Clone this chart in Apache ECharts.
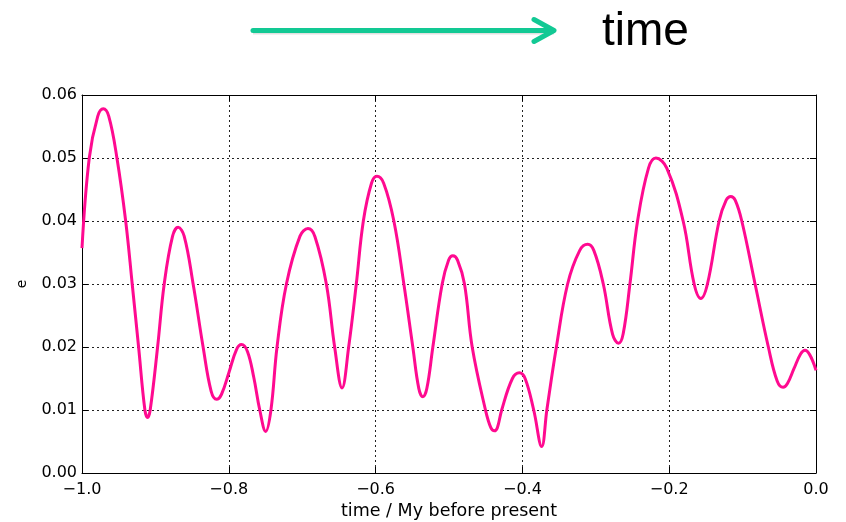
<!DOCTYPE html>
<html>
<head>
<meta charset="utf-8">
<script src="https://cdn.jsdelivr.net/npm/echarts@6/dist/echarts.min.js"></script>
<style>html,body{margin:0;padding:0;background:#fff}#c{width:846px;height:522px}</style>
</head>
<body>
<div id="c"></div>
<script>
// time (My before present) and eccentricity values
var timeVals = [-1.0000,-0.9901,-0.9786,-0.9710,-0.9635,-0.9524,-0.9405,-0.9316,-0.9229,-0.9143,-0.9106,-0.9071,-0.8970,-0.8880,-0.8766,-0.8690,-0.8608,-0.8486,-0.8350,-0.8241,-0.8167,-0.8099,-0.7997,-0.7895,-0.7827,-0.7746,-0.7660,-0.7578,-0.7497,-0.7426,-0.7343,-0.7215,-0.7030,-0.6921,-0.6826,-0.6671,-0.6558,-0.6457,-0.6367,-0.6263,-0.6167,-0.6056,-0.5982,-0.5890,-0.5751,-0.5615,-0.5493,-0.5411,-0.5356,-0.5302,-0.5220,-0.5093,-0.5005,-0.4948,-0.4884,-0.4789,-0.4684,-0.4503,-0.4430,-0.4381,-0.4341,-0.4282,-0.4136,-0.4041,-0.3963,-0.3846,-0.3737,-0.3667,-0.3537,-0.3384,-0.3220,-0.3111,-0.3026,-0.2898,-0.2771,-0.2690,-0.2627,-0.2535,-0.2431,-0.2282,-0.2181,-0.2033,-0.1810,-0.1660,-0.1569,-0.1479,-0.1320,-0.1224,-0.1161,-0.1101,-0.1011,-0.0830,-0.0649,-0.0529,-0.0449,-0.0389,-0.0299,-0.0210,-0.0150,0.0000];
var eccVals = [0.0357,0.0500,0.0566,0.0578,0.0566,0.0500,0.0400,0.0300,0.0200,0.0100,0.0088,0.0100,0.0200,0.0300,0.0376,0.0390,0.0376,0.0300,0.0200,0.0130,0.0117,0.0125,0.0160,0.0196,0.0204,0.0193,0.0152,0.0100,0.0066,0.0100,0.0200,0.0300,0.0376,0.0388,0.0375,0.0300,0.0200,0.0135,0.0200,0.0300,0.0400,0.0460,0.0471,0.0460,0.0400,0.0300,0.0200,0.0134,0.0121,0.0134,0.0200,0.0300,0.0338,0.0345,0.0338,0.0300,0.0200,0.0100,0.0072,0.0067,0.0072,0.0100,0.0150,0.0159,0.0150,0.0100,0.0042,0.0100,0.0200,0.0300,0.0353,0.0363,0.0353,0.0300,0.0220,0.0206,0.0221,0.0300,0.0400,0.0484,0.0500,0.0484,0.0400,0.0300,0.0277,0.0300,0.0400,0.0433,0.0439,0.0433,0.0400,0.0300,0.0200,0.0146,0.0136,0.0142,0.0166,0.0189,0.0195,0.0163];
var xTickLabels = ['\u22121.0','\u22120.8','\u22120.6','\u22120.4','\u22120.2','0.0'];
var yTickLabels = ['0.00','0.01','0.02','0.03','0.04','0.05','0.06'];

var seriesData = timeVals.map(function(t,i){return [t, eccVals[i]];});
var font = 'DejaVu Sans';
var chart = echarts.init(document.getElementById('c'));
var splitStyle = {show:true, lineStyle:{color:'#222', type:[2,3], width:1}};
var lineStyleAx = {color:'#000', width:1};
chart.setOption({
  animation:false,
  backgroundColor:'#fff',
  grid:{left:82, right:30, top:95, bottom:49, containLabel:false, outerBoundsMode:'none'},
  xAxis:[{
    type:'value', min:-1, max:0, interval:0.2, position:'bottom',
    name:'time / My before present', nameLocation:'middle', nameGap:26,
    nameTextStyle:{fontFamily:font, fontSize:17.5, color:'#000'},
    axisLine:{show:true, onZero:false, lineStyle:lineStyleAx},
    axisTick:{show:true, inside:true, length:6, lineStyle:lineStyleAx},
    axisLabel:{fontFamily:font, fontSize:16, color:'#000', margin:9,
      formatter:function(v){var i=Math.round((v+1)/0.2);return xTickLabels[i];}},
    splitLine:splitStyle
  },{
    type:'value', min:-1, max:0, interval:0.2, position:'top',
    axisLine:{show:true, onZero:false, lineStyle:lineStyleAx},
    axisTick:{show:true, inside:true, length:6, lineStyle:lineStyleAx},
    axisLabel:{show:false}, splitLine:{show:false}
  }],
  yAxis:[{
    type:'value', min:0, max:0.06, interval:0.01, position:'left',
    name:'e', nameLocation:'middle', nameGap:53, nameRotate:90,
    nameTextStyle:{fontFamily:font, fontSize:14, color:'#000'},
    axisLine:{show:true, onZero:false, lineStyle:lineStyleAx},
    axisTick:{show:true, inside:true, length:6, lineStyle:lineStyleAx},
    axisLabel:{fontFamily:font, fontSize:16, color:'#000', margin:5,
      formatter:function(v){return yTickLabels[Math.round(v/0.01)];}},
    splitLine:splitStyle
  },{
    type:'value', min:0, max:0.06, interval:0.01, position:'right',
    axisLine:{show:true, onZero:false, lineStyle:lineStyleAx},
    axisTick:{show:true, inside:true, length:6, lineStyle:lineStyleAx},
    axisLabel:{show:false}, splitLine:{show:false}
  }],
  series:[{
    type:'line', data:seriesData, smooth:0.4, showSymbol:false, symbol:'none',
    lineStyle:{color:'#ff0a90', width:3}, z:5
  }],
  graphic:[
    {type:'line', shape:{x1:253, y1:32, x2:554, y2:32}, style:{stroke:'rgba(0,0,0,0.12)', lineWidth:5}},
    {type:'line', shape:{x1:253, y1:30.5, x2:553, y2:30.5}, style:{stroke:'#12c994', lineWidth:5, lineCap:'round'}},
    {type:'polyline', shape:{points:[[534,19.5],[554,30.5],[534,41.5]]}, style:{stroke:'#12c994', lineWidth:5, fill:null, lineCap:'round', lineJoin:'round'}},
    {type:'text', left:602, top:9, style:{text:'time', font:'46px "Liberation Sans", Arial, sans-serif', fill:'#000'}}
  ]
});
</script>
</body>
</html>
